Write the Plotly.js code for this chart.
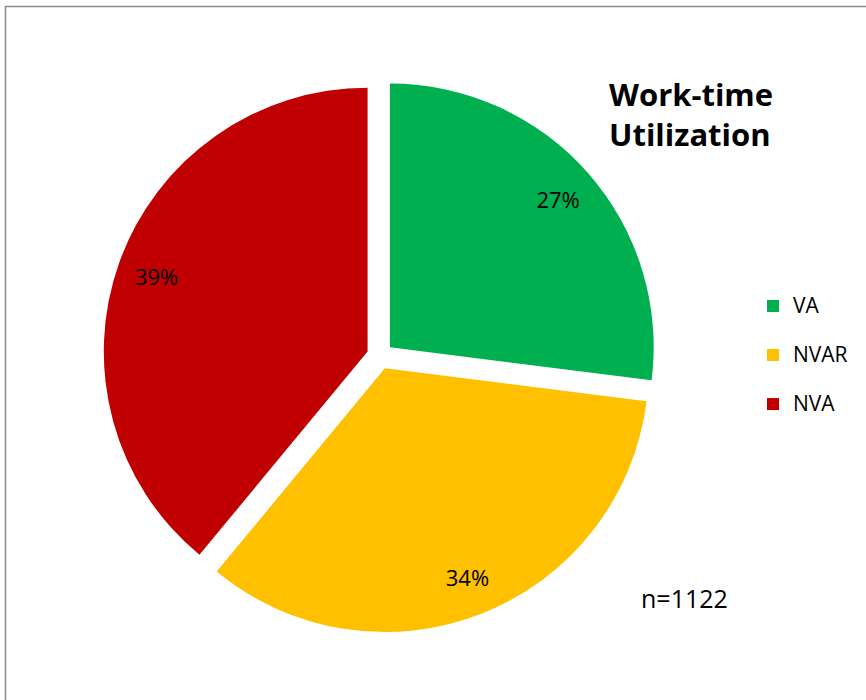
<!DOCTYPE html>
<html>
<head>
<meta charset="utf-8">
<script src="https://cdn.plot.ly/plotly-3.0.1.min.js"></script>
<style>html,body{margin:0;padding:0;background:#fff;}#chart{width:866px;height:700px;}</style>
</head>
<body>
<div id="chart"></div>
<script>
const categories = ['VA', 'NVAR', 'NVA'];
const shares = [27, 34, 39];
const sliceColors = ['#00B050', '#FFC000', '#C00000'];
const sampleNote = 'n=1122';
const chartTitle = 'Work-time<br>Utilization';

const W = 866, H = 700;
const cx = 380, cy = 356, side = 554;
const FONT = '"Open Sans", Lato, sans-serif';
const dom = {x: [(cx - side/2)/W, (cx + side/2)/W], y: [1 - (cy + side/2)/H, 1 - (cy - side/2)/H]};
// legend entries: visible label + an empty second line for taller rows
const legendLabels = categories.map(c => '<span style="font-size:21px">' + c + '</span><br> ');

const pieTrace = {
  type: 'pie',
  labels: legendLabels,
  values: shares,
  sort: false,
  direction: 'clockwise',
  rotation: 0,
  pull: 0.05,
  marker: {colors: sliceColors, line: {width: 0}},
  textinfo: 'none',
  hoverinfo: 'percent',
  domain: dom
};
const labelTrace = {
  type: 'pie',
  labels: categories,
  values: shares,
  sort: false,
  direction: 'clockwise',
  rotation: 0,
  pull: 0.05,
  hole: 0.7,
  showlegend: false,
  marker: {colors: ['rgba(0,0,0,0)', 'rgba(0,0,0,0)', 'rgba(0,0,0,0)'], line: {width: 0}},
  textinfo: 'percent',
  textposition: 'inside',
  insidetextorientation: 'horizontal',
  textfont: {family: FONT, size: 22, color: '#000'},
  hoverinfo: 'skip',
  domain: dom
};
const layout = {
  width: W, height: H,
  margin: {l: 0, r: 0, t: 0, b: 0},
  paper_bgcolor: '#fff',
  font: {family: FONT, color: '#000'},
  title: {text: '<b>' + chartTitle + '</b>', x: 609/W, xanchor: 'left', xref: 'paper', y: 1 - 106/H, yanchor: 'top', font: {size: 31, family: FONT, color: '#000'}},
  showlegend: true,
  legend: {x: 753/W, y: 1 - 288/H, xanchor: 'left', yanchor: 'top', valign: 'top', font: {size: 17.7, family: FONT}, itemwidth: 30, tracegroupgap: 0},
  shapes: [{type: 'rect', xref: 'paper', yref: 'paper', x0: 5.5/W, x1: 1.02, y0: -0.02, y1: 1 - 6.5/H, line: {color: '#8a8a8a', width: 1.5}}],
  annotations: [{text: sampleNote, xref: 'paper', yref: 'paper', x: 639/W, y: 1 - 598/H, xanchor: 'left', yanchor: 'middle', showarrow: false, font: {size: 25, family: FONT}}]
};
Plotly.newPlot('chart', [pieTrace, labelTrace], layout, {displayModeBar: false, staticPlot: true});
</script>
</body>
</html>
